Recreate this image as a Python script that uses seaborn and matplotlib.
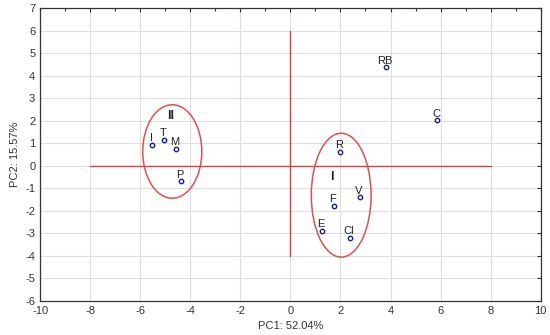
import matplotlib
matplotlib.use("Agg")
import matplotlib.pyplot as plt
import seaborn as sns
import pandas as pd
from matplotlib.patches import Ellipse
from matplotlib.ticker import MultipleLocator

# PCA scores
labels = ["I", "T", "M", "P", "RB", "C", "R", "V", "F", "E", "Cl"]
pc1 = [-5.52, -5.04, -4.56, -4.36, 3.83, 5.87, 2.0, 2.78, 1.73, 1.27, 2.37]
pc2 = [0.94, 1.16, 0.74, -0.70, 4.36, 2.01, 0.60, -1.41, -1.80, -2.91, -3.22]

# cluster ellipses: centre x, centre y, width, height, group label, label x, label y
groups = ["II", "I"]
ell_x = [-4.72, 2.03]
ell_y = [0.63, -1.31]
ell_w = [2.36, 2.39]
ell_h = [4.15, 5.5]
grp_x = [-4.77, 1.64]
grp_y = [2.19, -0.52]

df = pd.DataFrame({"label": labels, "PC1": pc1, "PC2": pc2})

sns.set_style("whitegrid")
plt.rcParams["font.family"] = ["Liberation Sans", "DejaVu Sans"]
plt.rcParams["axes.unicode_minus"] = False

fig = plt.figure(figsize=(5.5, 3.35), dpi=100)
ax = fig.add_axes([0.073, 0.102, 0.910, 0.874])

sns.scatterplot(data=df, x="PC1", y="PC2", ax=ax, marker="o", s=10,
                facecolor="white", edgecolor="#1a1aa8", linewidth=1.0, zorder=5)

for lab, x, y in zip(labels, pc1, pc2):
    ax.text(x - 0.05, y + 0.08, lab, fontsize=8, ha="center", va="bottom",
            color="#222222", zorder=6)

# crosshair through the origin
ax.plot([-8, 8], [0, 0], color="#d94040", lw=1.0, zorder=3)
ax.plot([0, 0], [-4, 6], color="#d94040", lw=1.0, zorder=3)

for g, cx, cy, w, h, gx, gy in zip(groups, ell_x, ell_y, ell_w, ell_h, grp_x, grp_y):
    ax.add_patch(Ellipse((cx, cy), w, h, fill=False, edgecolor="#e05050", lw=1.1, zorder=4))
    ax.text(gx, gy, g, fontsize=9, fontweight="bold", ha="center", va="center",
            color="#222222", zorder=6)

ax.set_xlim(-10, 10)
ax.set_ylim(-6, 7)
ax.xaxis.set_major_locator(MultipleLocator(2))
ax.xaxis.set_minor_locator(MultipleLocator(1))
ax.yaxis.set_major_locator(MultipleLocator(1))
ax.grid(True, which="major", color="#dedede", lw=0.8)
ax.grid(False, which="minor")
ax.tick_params(which="both", direction="in", top=True, right=True,
               labelsize=8, colors="#333333", length=3, width=0.8)
ax.tick_params(which="minor", length=2)
ax.tick_params(axis="x", pad=4)
for sp in ax.spines.values():
    sp.set_color("#333333")
    sp.set_linewidth(0.9)

ax.set_xlabel("PC1: 52.04%", fontsize=8, color="#333333", labelpad=3)
ax.set_ylabel("PC2: 15.57%", fontsize=8, color="#333333", labelpad=4)

fig.savefig("out.png", dpi=100)
